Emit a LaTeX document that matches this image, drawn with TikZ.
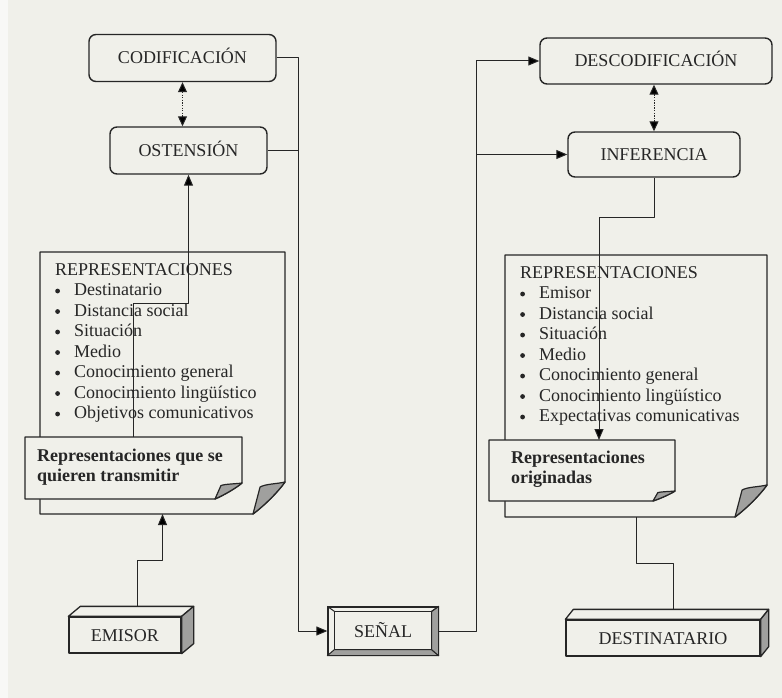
\documentclass[tikz,border=0pt]{standalone}
\usepackage{fontspec}
\setmainfont{Liberation Serif}
\usetikzlibrary{arrows.meta,calc}
\definecolor{bg}{HTML}{F0F0EA}
\definecolor{ink}{HTML}{262626}
\definecolor{shade}{HTML}{A0A09E}
\newcommand\myfs{\fontsize{18}{20.5}\selectfont}
\newcommand\bl{\makebox[19pt][l]{\tikz[x=1pt,y=1pt,baseline=0pt]\fill[ink] (3.5,4.6) circle (2.4);}}
\newcommand\pagecurl[3]{%
  \filldraw[ln, line width=1.2pt, fill=shade] ($(#1)+(0,-#3)$) .. controls +(-0.25*#2,0.06*#3) and +(0.15*#2,-0.1*#3) .. ($(#1)+(-0.78*#2,-0.84*#3)$) -- ($(#1)+(-#2,0)$) .. controls +(0.37*#2,-0.28*#3) and +(-0.22*#2,0.31*#3) .. ($(#1)+(0,-#3)$) -- cycle;}
\newcommand\docpage[3]{%
  \draw[ln, line width=1.4pt, fill=bg] (#1.north west) -- (#1.north east) -- ($(#1.south east)+(0,-#3)$) .. controls +(-0.22*#2,0.31*#3) and +(0.37*#2,-0.28*#3) .. ($(#1.south east)+(-#2,0)$) -- (#1.south west) -- cycle;
  \pagecurl{#1.south east}{#2}{#3}}
\begin{document}
\begin{tikzpicture}[x=1pt,y=-1pt,line join=round,
  ln/.style={draw=ink, line width=1pt},
  arr/.style={ln, -{Triangle[length=11pt,width=9pt]}},
  darr/.style={ln, dash pattern=on 1.3pt off 1.3pt, {Triangle[length=10pt,width=9pt]}-{Triangle[length=10pt,width=9pt]}},
  rbox/.style={draw=ink, line width=1.4pt, rounded corners=7pt, fill=bg, inner sep=0pt, font=\myfs, text=ink, text height=12pt, text depth=0pt},
  txt/.style={text=ink, inner sep=0pt, font=\myfs},
  geo/.style={inner sep=0pt, outer sep=0pt},
  cube/.style={draw=ink, line width=1.3pt, fill=bg, inner sep=0pt, font=\myfs, text=ink, text height=12pt, text depth=0pt}]
\fill[bg] (0,0) rectangle (782,698);
\fill[white!55!bg] (0,0) rectangle (8,698);
\useasboundingbox (0,0) rectangle (782,698);

% rounded process boxes
\node[rbox, minimum width=187pt, minimum height=47pt] (codif) at (182.5,58) {CODIFICACIÓN};
\node[rbox, minimum width=157pt, minimum height=47pt] (osten) at (188.5,150.5) {OSTENSIÓN};
\node[rbox, minimum width=232pt, minimum height=46pt] (descod) at (656,61) {DESCODIFICACIÓN};
\node[rbox, minimum width=172pt, minimum height=45pt] (infer) at (654,154.5) {INFERENCIA};

% left document
\node[geo, minimum width=245pt, minimum height=262pt] (ldoc) at (162.5,383) {};
\docpage{ldoc}{32}{32}
\node[txt, anchor=north west, align=left] (llist) at (55,263) {REPRESENTACIONES\\
\bl Destinatario\\ \bl Distancia social\\ \bl Situación\\ \bl Medio\\
\bl Conocimiento general\\ \bl Conocimiento lingüístico\\ \bl Objetivos comunicativos};
\node[geo, minimum width=217pt, minimum height=62pt] (lsmall) at (133.5,468) {};
\docpage{lsmall}{27}{16}
\node[txt, anchor=west, align=left, font=\myfs\bfseries] (ltext) at (37,467) {Representaciones que se\\ quieren transmitir};

% right document
\node[geo, minimum width=262pt, minimum height=262pt] (rdoc) at (636,386) {};
\docpage{rdoc}{32}{32}
\node[txt, anchor=north west, align=left] (rlist) at (520,266) {REPRESENTACIONES\\
\bl Emisor\\ \bl Distancia social\\ \bl Situación\\ \bl Medio\\
\bl Conocimiento general\\ \bl Conocimiento lingüístico\\ \bl Expectativas comunicativas};
\node[geo, minimum width=186pt, minimum height=61pt] (rsmall) at (582,470.5) {};
\docpage{rsmall}{22}{10}
\node[txt, anchor=west, align=left, font=\myfs\bfseries] (rtext) at (511,469) {Representaciones\\ originadas};

% EMISOR block
\node[cube, minimum width=112pt, minimum height=36pt] (emisor) at (125,635) {EMISOR};
\draw[ln, line width=1.3pt, fill=bg] (emisor.north west) -- ++(12,-10) -- ($(emisor.north east)+(12,-10)$) -- (emisor.north east) -- cycle;
\draw[ln, line width=1.3pt, fill=shade] (emisor.north east) -- ++(12,-10) -- ($(emisor.south east)+(12,-10)$) -- (emisor.south east) -- cycle;

% DESTINATARIO block
\node[cube, minimum width=194pt, minimum height=36pt] (dest) at (663,638) {DESTINATARIO};
\draw[ln, line width=1.3pt, fill=bg] (dest.north west) -- ++(8,-10) -- ($(dest.north east)+(8,-10)$) -- (dest.north east) -- cycle;
\draw[ln, line width=1.3pt, fill=shade] (dest.north east) -- ++(8,-10) -- ($(dest.south east)+(8,-10)$) -- (dest.south east) -- cycle;

% SEÑAL bevelled block
\node[cube, minimum width=110pt, minimum height=48pt] (senal) at (383,631) {SEÑAL};
\coordinate (snw) at ($(senal.north west)+(7,5)$);
\coordinate (sne) at ($(senal.north east)+(-7,5)$);
\coordinate (ssw) at ($(senal.south west)+(7,-6)$);
\coordinate (sse) at ($(senal.south east)+(-7,-6)$);
\filldraw[ln, fill=shade] (senal.south west) -- (senal.south east) -- (sse) -- (ssw) -- cycle;
\filldraw[ln, fill=shade] (senal.north east) -- (senal.south east) -- (sse) -- (sne) -- cycle;
\draw[ln] (senal.north west) -- (snw) (senal.north east) -- (sne);
\draw[ln] (snw) rectangle (sse);

% connectors
\draw[darr] (codif.south) -- (codif.south |- osten.north);
\draw[darr] (infer.north |- descod.south) -- (infer.north);

\coordinate (lbend) at (188.5,303);
\draw[arr] (lsmall.north) |- (lbend) -- (osten.south);

\coordinate (lv) at (298,0);
\draw[arr] (codif.east) -| (lv |- senal.west) -- (senal.west);
\draw[ln] (osten.east) -- (osten.east -| lv);

\coordinate (rv) at (476,0);
\draw[arr] (senal.east) -| (rv |- descod.west) -- (descod.west);
\draw[arr] (rv |- infer.west) -- (infer.west);

\coordinate (rbend) at (599,217);
\draw[arr] (infer.south) |- (rbend) -- (rbend |- rsmall.north);

\coordinate (dbend) at (673,563);
\coordinate (desttop) at ($(dest.north)+(10,-10)$);
\draw[ln] (rdoc.south) |- (dbend) -- (desttop);

\coordinate (etop) at ($(emisor.north)+(12,-10)$);
\coordinate (ebend) at (162.5,560);
\draw[arr] (etop) |- (ebend) -- (ldoc.south);
\end{tikzpicture}
\end{document}
